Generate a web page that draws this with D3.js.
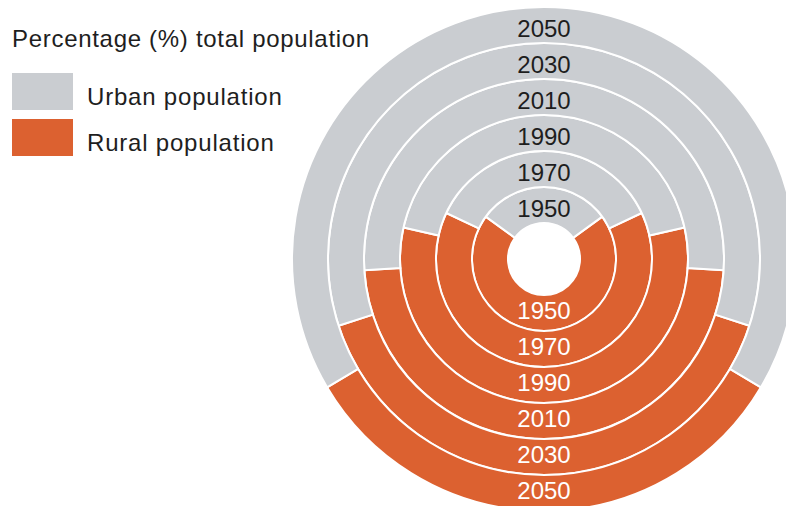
<!DOCTYPE html>
<html>
<head>
<meta charset="utf-8">
<script src="https://cdn.jsdelivr.net/npm/d3@7"></script>
<style>
  body { margin: 0; background: #fff; }
  svg text { font-family: "Liberation Sans", Arial, sans-serif; }
</style>
</head>
<body>
<script>
'use strict';

// rings, inner to outer
const years = ["1950", "1970", "1990", "2010", "2030", "2050"];
// share of total population (%)
const ruralPct = [70, 64, 57, 48, 40, 33];
const urbanPct = [30, 36, 43, 52, 60, 67];
const legendLabels = ["Urban population", "Rural population"];

const colors = { urban: "#cacdd1", rural: "#dc6130" };

(function() {
  const width = 786, height = 506;
  const cx = 544, cy = 259;

  const svg = d3.select("body").append("svg")
    .attr("width", width)
    .attr("height", height);

  // one band of radius per year
  const rScale = d3.scaleBand()
    .domain(years)
    .range([36, 252])
    .padding(0);

  const arc = d3.arc();
  const rings = svg.append("g").attr("transform", `translate(${cx},${cy})`);

  years.forEach(function(year, i) {
    const f = ruralPct[i] / (ruralPct[i] + urbanPct[i]);
    // rural slice is centred at the bottom of the ring
    const start = Math.PI - f * Math.PI;
    const pie = d3.pie().sort(null)
      .startAngle(start)
      .endAngle(start + 2 * Math.PI);
    const slices = pie([ruralPct[i], urbanPct[i]]);
    const r0 = rScale(year), r1 = r0 + rScale.bandwidth();

    rings.selectAll(".s" + year)
      .data(slices)
      .enter()
      .append("path")
        .attr("d", d => arc({ innerRadius: r0, outerRadius: r1, startAngle: d.startAngle, endAngle: d.endAngle }))
        .attr("fill", (d, j) => j === 0 ? colors.rural : colors.urban)
        .attr("stroke", "#fff")
        .attr("stroke-width", 2);

    const labelR = r0 + rScale.bandwidth() / 2 - 3;
    // urban label on top
    rings.append("text")
      .attr("x", 0)
      .attr("y", -labelR)
      .attr("dy", "0.36em")
      .attr("text-anchor", "middle")
      .style("font-size", "24px")
      .attr("fill", "#1e1e1e")
      .text(year);
    // rural label below
    rings.append("text")
      .attr("x", 0)
      .attr("y", labelR)
      .attr("dy", "0.36em")
      .attr("text-anchor", "middle")
      .style("font-size", "24px")
      .attr("fill", "#fff")
      .text(year);
  });

  // legend
  svg.append("text")
    .attr("x", 12)
    .attr("y", 47)
    .style("font-size", "24px")
    .style("letter-spacing", "0.7px")
    .attr("fill", "#1e1e1e")
    .text("Percentage (%) total population");

  const legendColors = [colors.urban, colors.rural];
  legendLabels.forEach(function(label, i) {
    const y = 73 + i * 46;
    svg.append("rect")
      .attr("x", 12).attr("y", y)
      .attr("width", 61).attr("height", 37)
      .attr("fill", legendColors[i]);
    svg.append("text")
      .attr("x", 87).attr("y", y + 32)
      .style("font-size", "24px")
      .style("letter-spacing", "0.8px")
      .attr("fill", "#1e1e1e")
      .text(label);
  });
})();
</script>
</body>
</html>
